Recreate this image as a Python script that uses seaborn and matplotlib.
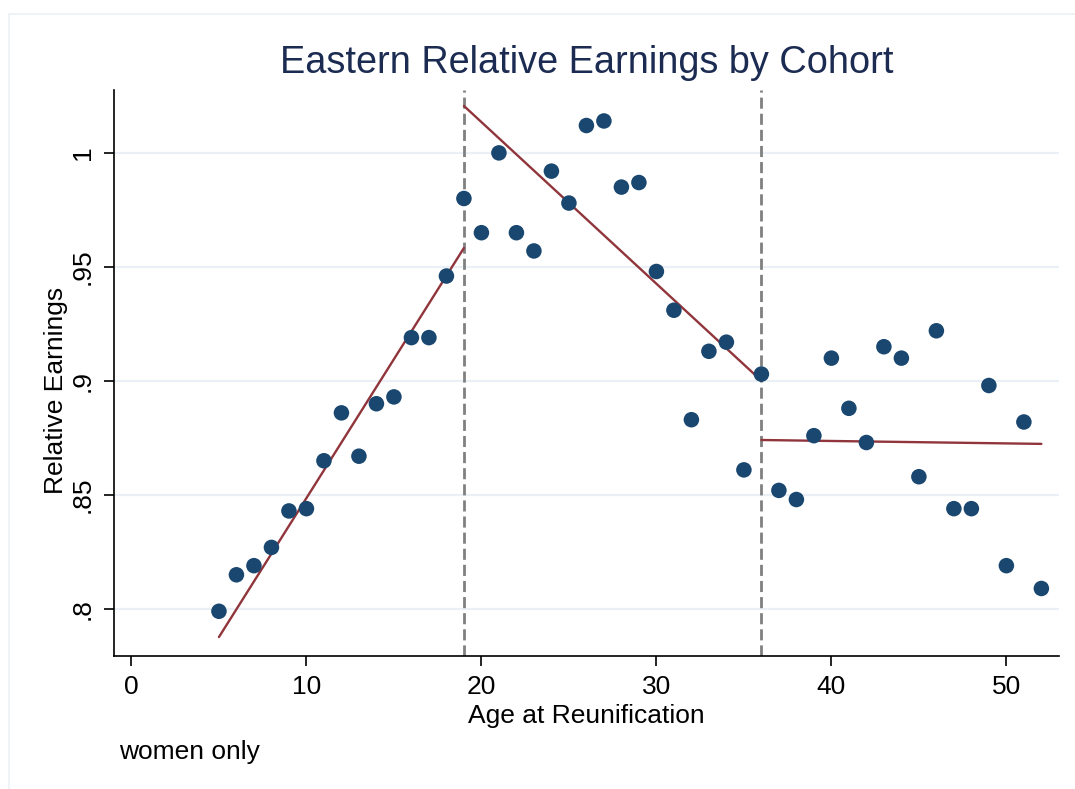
# Eastern relative earnings by cohort (women only), Stata-style scatter with piecewise fits

import pandas as pd
import matplotlib.pyplot as plt
import seaborn as sns

ages = list(range(5, 53))
rel_earnings = [
    0.799, 0.815, 0.819, 0.827, 0.843, 0.844, 0.865, 0.886, 0.867, 0.890,
    0.893, 0.919, 0.919, 0.946, 0.980, 0.965, 1.000, 0.965, 0.957, 0.992,
    0.978, 1.012, 1.014, 0.985, 0.987, 0.948, 0.931, 0.883, 0.913, 0.917,
    0.861, 0.903, 0.852, 0.848, 0.876, 0.910, 0.888, 0.873, 0.915, 0.910,
    0.858, 0.922, 0.844, 0.844, 0.898, 0.819, 0.882, 0.809,
]

# fitted lines per segment (endpoints)
fit_segment = ["a", "a", "b", "b", "c", "c"]
fit_x = [5, 19, 19, 36, 36, 52]
fit_y = [0.7877, 0.9583, 1.0206, 0.9001, 0.8741, 0.8724]

breaks = [19, 36]
x_ticks = [0, 10, 20, 30, 40, 50]
y_ticks = [0.80, 0.85, 0.90, 0.95, 1.00]
y_tick_labels = [".8", ".85", ".9", ".95", "1"]

sns.set_theme(style="white")
plt.rcParams["font.family"] = ["Liberation Sans", "DejaVu Sans"]
plt.rcParams["text.color"] = "black"
plt.rcParams["axes.labelcolor"] = "black"

df = pd.DataFrame({"age": ages, "rel": rel_earnings})
fit = pd.DataFrame({"seg": fit_segment, "x": fit_x, "y": fit_y})

fig = plt.figure(figsize=(10.75, 7.89), dpi=100)
ax = fig.add_axes([0.106, 0.1686, 0.879, 0.7174])

for y in y_ticks:
    ax.axhline(y, color="#eaf0f5", lw=1.6, zorder=0)
for b in breaks:
    ax.axvline(b, color="#808080", lw=2.0, ls=(0, (4.0, 1.8)), zorder=1)

sns.lineplot(data=fit, x="x", y="y", units="seg", estimator=None,
             color="#90353b", lw=1.7, ax=ax, zorder=2)
sns.scatterplot(data=df, x="age", y="rel", color="#1a476f", s=125,
                edgecolor="none", ax=ax, zorder=3)

ax.set_xlim(-1, 53)
ax.set_ylim(0.7794, 1.0276)
ax.set_xticks(x_ticks)
ax.set_yticks(y_ticks)
ax.set_yticklabels(y_tick_labels, rotation=90, va="center")
ax.tick_params(axis="both", which="both", length=7, width=1.2, colors="black",
               labelsize=19, direction="out", bottom=True, left=True, pad=7)

for side in ["top", "right"]:
    ax.spines[side].set_visible(False)
for side in ["left", "bottom"]:
    ax.spines[side].set_color("black")
    ax.spines[side].set_linewidth(1.2)

ax.set_xlabel("Age at Reunification", fontsize=19, labelpad=3)
ax.set_ylabel("Relative Earnings", fontsize=19)
ax.yaxis.set_label_coords(-0.049, 0.47)
ax.set_title("Eastern Relative Earnings by Cohort", fontsize=27.3,
             color="#1c2b52", pad=12)

fig.text(0.111, 0.047, "women only", fontsize=19, ha="left", va="center")

# faint outer graph-region frame
fig.add_artist(plt.Line2D([0.008, 1.0], [0.982, 0.982], color="#eef1f5", lw=1.2))
fig.add_artist(plt.Line2D([0.008, 0.008], [0.0, 0.982], color="#eef1f5", lw=1.2))

fig.savefig("out.png", dpi=100)
plt.close(fig)
